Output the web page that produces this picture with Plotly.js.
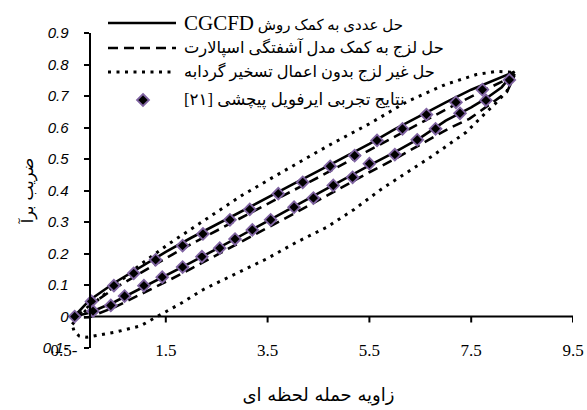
<!DOCTYPE html>
<html>
<head>
<meta charset="utf-8">
<script src="https://cdn.plot.ly/plotly-3.0.1.min.js"></script>
<style>
  html, body { margin: 0; padding: 0; background: #fff; }
  #chart { width: 587px; height: 410px; }
</style>
</head>
<body>
<div id="chart"></div>
<script>
// Lift coefficient vs. instantaneous angle of attack for a pitching airfoil

// CGCFD solution (solid loop)
const cgcfdUpX   = [-0.3, 0, 0.5, 1, 1.5, 2, 2.5, 3, 3.5, 4, 4.5, 5, 5.5, 6, 6.5, 7, 7.5, 8, 8.35];
const cgcfdUpY   = [0.0, 0.052, 0.108, 0.157, 0.205, 0.25, 0.293, 0.335, 0.378, 0.42, 0.462, 0.505, 0.548, 0.595, 0.638, 0.68, 0.72, 0.755, 0.777];
const cgcfdDownX = [8.35, 8.1, 7.8, 7.5, 7, 6.5, 6, 5.5, 5, 4.5, 4, 3.5, 3, 2.5, 2, 1.5, 1, 0.5, 0, -0.3];
const cgcfdDownY = [0.777, 0.728, 0.693, 0.664, 0.622, 0.567, 0.522, 0.48, 0.435, 0.39, 0.347, 0.303, 0.258, 0.215, 0.172, 0.13, 0.09, 0.047, 0.012, 0.0];

// Viscous solution with Spalart turbulence model (dashed loop)
const spalartUpX   = [-0.3, 0, 0.5, 1, 1.5, 2, 2.5, 3, 3.5, 4, 4.5, 5, 5.5, 6, 6.5, 7, 7.5, 8, 8.35];
const spalartUpY   = [-0.005, 0.035, 0.09, 0.138, 0.185, 0.23, 0.273, 0.315, 0.357, 0.4, 0.442, 0.485, 0.527, 0.572, 0.615, 0.657, 0.698, 0.737, 0.765];
const spalartDownX = [8.35, 8.2, 7.84, 7.47, 7.05, 6.5, 6, 5.5, 5, 4.5, 4, 3.5, 3, 2.5, 2, 1.5, 1, 0.5, 0, -0.3];
const spalartDownY = [0.765, 0.712, 0.67, 0.628, 0.596, 0.545, 0.5, 0.458, 0.413, 0.368, 0.325, 0.282, 0.238, 0.195, 0.152, 0.11, 0.07, 0.03, -0.002, -0.005];

// Inviscid solution without vortex capturing (dotted loop)
const inviscidUpX   = [-0.34, -0.2, 0.2, 0.6, 1.0, 1.6, 2.2, 3.0, 3.8, 4.7, 5.5, 6.25, 7.0, 7.6, 8.0, 8.36];
const inviscidUpY   = [-0.025, 0.0, 0.058, 0.113, 0.165, 0.235, 0.30, 0.385, 0.46, 0.543, 0.612, 0.683, 0.737, 0.768, 0.778, 0.775];
const inviscidDownX = [8.36, 8.2, 8.0, 7.8, 7.4, 6.75, 6.1, 5.74, 5.2, 4.66, 4.07, 3.48, 2.8, 2.23, 1.8, 1.4, 1.0, 0.5, 0.2, -0.05, -0.2, -0.3, -0.34];
const inviscidDownY = [0.775, 0.715, 0.68, 0.649, 0.585, 0.511, 0.442, 0.405, 0.34, 0.283, 0.236, 0.183, 0.13, 0.085, 0.042, 0.005, -0.03, -0.05, -0.058, -0.066, -0.062, -0.048, -0.025];

// Experimental pitching-airfoil data (diamonds)
const expUpX   = [-0.29, 0.04, 0.48, 0.87, 1.30, 1.83, 2.23, 2.76, 3.15, 3.71, 4.19, 4.73, 5.21, 5.65, 6.15, 6.62, 7.20, 7.72, 8.25];
const expUpY   = [0.0, 0.048, 0.098, 0.137, 0.18, 0.225, 0.262, 0.307, 0.34, 0.39, 0.426, 0.477, 0.511, 0.559, 0.596, 0.641, 0.680, 0.720, 0.751];
const expDownX = [7.79, 7.28, 6.80, 6.44, 6.0, 5.50, 5.17, 4.79, 4.40, 4.02, 3.56, 3.20, 2.86, 2.56, 2.21, 1.83, 1.43, 1.07, 0.69, 0.42, 0.07];
const expDownY = [0.686, 0.645, 0.596, 0.561, 0.514, 0.485, 0.442, 0.416, 0.376, 0.347, 0.307, 0.275, 0.246, 0.217, 0.19, 0.157, 0.125, 0.098, 0.065, 0.035, 0.017];

// Series names (legend order)
const seriesNames = [
  'حل عددی به کمک روش <span style="font-family:Liberation Serif;font-size:21px">CGCFD</span>',
  'حل لزج به کمک مدل آشفتگی اسپالارت',
  'حل غیر لزج بدون اعمال تسخیر گردابه',
  'نتایج تجربی ایرفویل پیچشی [۲۱]'
];

// Axis ticks and titles
const RLE = '\u202B', PDF = '\u202C';
const xTickVals = [-0.5, 1.5, 3.5, 5.5, 7.5, 9.5];
const xTickText = [RLE + '-0.5' + PDF, '1.5', '3.5', '5.5', '7.5', '9.5'];
const yTickVals = [-0.1, 0, 0.1, 0.2, 0.3, 0.4, 0.5, 0.6, 0.7, 0.8, 0.9];
const yTickText = [RLE + '-0.1' + PDF, '0', '0.1', '0.2', '0.3', '0.4', '0.5', '0.6', '0.7', '0.8', '0.9'];
const xTitle = 'زاویه حمله لحظه ای';
const yTitle = 'ضریب برآ';

// ---- page geometry ----
const W = 587, H = 410;
const M = { l: 64, r: 14, t: 33, b: 62 };
const px2paperX = px => (px - M.l) / (W - M.l - M.r);
const px2paperY = py => (H - M.b - py) / (H - M.t - M.b);

const purple = '#8064A2';
const lineSolid  = { color: '#000', width: 2.6 };
const lineDashed = { color: '#000', width: 2.6, dash: '10px,6px' };
const lineDotted = { color: '#000', width: 3, dash: '3px,5.5px' };

const loop = (ax, ay, bx, by) => ({ x: ax.concat(bx), y: ay.concat(by) });

const cg = loop(cgcfdUpX, cgcfdUpY, cgcfdDownX, cgcfdDownY);
const sp = loop(spalartUpX, spalartUpY, spalartDownX, spalartDownY);
const iv = loop(inviscidUpX, inviscidUpY, inviscidDownX, inviscidDownY);
const ex = loop(expUpX, expUpY, expDownX, expDownY);

const traces = [
  { type: 'scatter', mode: 'lines', x: iv.x, y: iv.y, line: lineDotted, name: seriesNames[2] },
  { type: 'scatter', mode: 'lines', x: sp.x, y: sp.y, line: lineDashed, name: seriesNames[1] },
  { type: 'scatter', mode: 'lines', x: cg.x, y: cg.y, line: lineSolid, name: seriesNames[0] },
  { type: 'scatter', mode: 'markers', x: ex.x, y: ex.y, name: seriesNames[3],
    marker: { symbol: 'diamond', size: 9, color: '#000', line: { color: purple, width: 1.8 } } }
];

// horizontal axis line drawn through y = 0, with its tick marks
const shapes = [
  { type: 'line', xref: 'x', yref: 'y', x0: 0, x1: 9.5, y0: 0, y1: 0,
    line: { color: '#000', width: 2 }, layer: 'below' }
];
xTickVals.filter(v => v > 0).forEach(v => {
  shapes.push({ type: 'line', xref: 'x', yref: 'y', ysizemode: 'pixel', yanchor: 0,
    x0: v, x1: v, y0: 0, y1: -6, line: { color: '#000', width: 2 }, layer: 'below' });
});

// legend block
const legendRows = [23, 48, 72, 100];
const legendTextSizes = [15, 16.3, 16.2, 16.7];
const legendStyles = [lineSolid, lineDashed, lineDotted];
const annotations = [];
legendStyles.forEach((st, i) => {
  shapes.push({ type: 'line', xref: 'paper', yref: 'paper',
    x0: px2paperX(108), x1: px2paperX(176),
    y0: px2paperY(legendRows[i]), y1: px2paperY(legendRows[i]), line: st });
});
shapes.push({ type: 'path', xref: 'paper', yref: 'paper', xsizemode: 'pixel', ysizemode: 'pixel',
  xanchor: px2paperX(143), yanchor: px2paperY(legendRows[3]),
  path: 'M0,6 L6,0 L0,-6 L-6,0 Z', fillcolor: '#000', line: { color: purple, width: 1.8 } });
seriesNames.forEach((nm, i) => {
  annotations.push({ xref: 'paper', yref: 'paper', x: px2paperX(182), y: px2paperY(legendRows[i]),
    xanchor: 'left', yanchor: 'middle', showarrow: false, align: 'left',
    text: RLE + nm + PDF, font: { family: 'Liberation Serif, DejaVu Sans', size: legendTextSizes[i], color: '#000' } });
});

const layout = {
  width: W, height: H,
  margin: M,
  paper_bgcolor: '#fff', plot_bgcolor: '#fff',
  showlegend: false,
  xaxis: {
    range: [-0.5, 9.5], tickvals: xTickVals, ticktext: xTickText,
    showgrid: false, zeroline: false, showline: false, ticks: '',
    anchor: 'free', position: 0.033,
    tickfont: { family: 'Liberation Serif', size: 17, color: '#000' },
    title: { text: xTitle, font: { family: 'DejaVu Sans', size: 18, color: '#000' }, standoff: 29 }
  },
  yaxis: {
    range: [-0.1, 0.9], tickvals: yTickVals, ticktext: yTickText.map(t => '<i>' + t + '</i>'),
    showgrid: false, zeroline: false, showline: true, linecolor: '#000', linewidth: 2,
    ticks: 'outside', ticklen: 5, tickwidth: 2, tickcolor: '#000',
    ticklabelstandoff: 12,
    anchor: 'free', position: px2paperX(89.5),
    tickfont: { family: 'Liberation Sans', size: 15, style: 'italic', color: '#000' },
    title: { text: yTitle, font: { family: 'DejaVu Sans', size: 16, color: '#000' }, standoff: 4 }
  },
  shapes: shapes,
  annotations: annotations
};

Plotly.newPlot('chart', traces, layout, { staticPlot: true, displayModeBar: false });
</script>
</body>
</html>
